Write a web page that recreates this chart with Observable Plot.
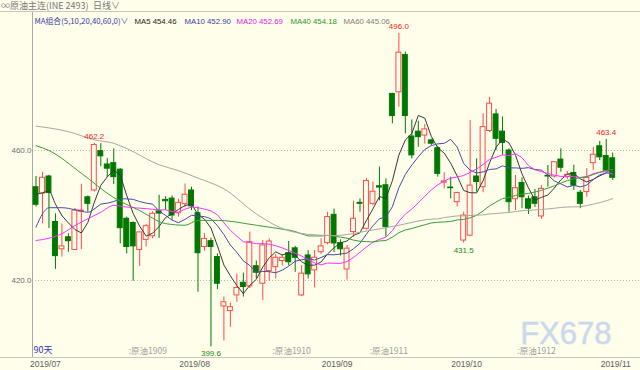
<!DOCTYPE html>
<html><head><meta charset="utf-8">
<script src="https://cdn.jsdelivr.net/npm/d3@7"></script>
<script src="https://cdn.jsdelivr.net/npm/@observablehq/plot@0.6"></script>
<style>
html,body{margin:0;padding:0;background:#fefeea;}
#wrap{position:relative;width:640px;height:370px;overflow:hidden;background:#fefeea;}
#hdr{position:absolute;left:0;top:0;width:640px;height:11px;border-bottom:1px solid #c8c8c0;font:9px "Noto Sans CJK SC",sans-serif;color:#777;line-height:11px;}
#hdr .ic{position:absolute;left:1px;top:0;font-size:9px;color:#888;}
#hdr .t1{position:absolute;left:10px;top:0;}
#hdr .t2{position:absolute;left:93px;top:0;}
#botline{position:absolute;left:0;top:357px;width:640px;height:0;border-top:1px solid #c8c8c0;}
#chart{position:absolute;left:0;top:0;}
</style></head><body><div id="wrap"><div id="chart"></div><div id="hdr"><span class="ic">∞</span><span class="t1">原油主连(INE 2493)</span><span class="t2">日线∨</span></div><div id="botline"></div></div>
<script>
// ---- daily candles, 2019-06-28 .. 2019-11-08 (90 trading days) ----
const opens  = [448.7,446.7,452.0,438.0,429.6,433.3,429.4,441.2,445.6,447.7,
                459.8,455.7,456.1,454.1,439.0,437.7,429.4,432.5,433.6,441.3,
                444.8,445.2,440.7,443.5,447.7,440.7,430.3,432.1,427.2,412.0,
                410.6,415.4,419.3,418.2,424.4,419.0,422.9,424.1,426.0,428.4,
                429.9,415.4,427.7,423.1,428.7,431.5,440.2,431.5,423.4,434.9,
                443.9,435.9,443.6,449.0,449.3,477.4,477.9,489.4,464.3,465.8,
                464.6,463.1,460.7,450.1,448.6,444.1,432.3,433.8,452.0,448.7,
                466.0,471.1,465.8,460.0,445.0,450.0,445.0,445.6,439.7,452.2,
                452.0,457.2,451.8,453.1,447.0,447.2,456.1,461.3,458.3,457.6];
const highs  = [452.0,453.3,452.4,440.5,437.4,434.4,442.2,449.6,446.0,462.2,
                462.1,457.5,460.5,454.4,439.5,438.0,435.0,437.2,441.2,446.2,
                445.8,446.0,445.0,449.7,448.7,442.6,434.4,433.0,428.2,414.9,
                413.0,422.0,422.3,434.9,426.0,432.3,432.8,428.0,428.0,432.0,
                430.5,424.6,429.2,429.2,432.8,441.0,442.0,432.5,430.8,444.4,
                445.1,451.3,450.3,454.9,451.3,477.6,496.0,490.3,469.4,469.0,
                468.0,463.5,461.3,453.2,451.8,447.2,441.0,469.2,457.4,471.3,
                476.4,472.6,470.3,460.5,452.3,451.6,446.0,448.0,449.2,455.4,
                456.6,460.5,453.5,455.5,447.7,454.4,461.0,462.8,463.4,459.2];
const lows   = [442.6,437.4,436.0,423.4,427.2,428.7,429.2,429.5,441.0,447.2,
                455.0,451.7,449.5,431.3,428.2,419.8,424.3,430.3,432.8,433.0,
                441.5,438.5,439.5,442.5,441.5,416.4,429.0,399.6,417.2,401.4,
                405.6,413.3,414.9,417.5,420.5,413.8,419.8,420.5,424.5,424.5,
                422.5,415.0,420.5,417.7,428.0,431.0,428.6,427.5,420.1,433.3,
                441.0,435.5,443.0,444.5,433.3,468.2,473.3,465.1,457.4,461.0,
                462.0,461.5,451.8,448.2,445.1,442.6,431.5,433.5,447.2,447.0,
                465.5,460.0,458.5,441.0,441.5,442.1,440.3,442.5,438.8,448.7,
                451.5,453.3,451.0,447.7,442.1,445.6,453.8,456.9,453.5,450.8];
const closes = [443.3,451.6,446.9,427.5,430.5,432.1,441.5,441.5,443.6,461.7,
                458.2,454.4,451.8,436.1,430.3,430.5,434.8,436.7,440.5,440.6,
                444.4,440.0,443.9,446.4,442.8,428.4,432.8,430.3,419.0,413.3,
                411.8,417.7,418.0,431.8,422.4,430.8,432.0,427.0,427.0,425.6,
                427.0,422.1,421.9,427.0,430.5,439.5,431.4,429.6,429.8,439.0,
                443.6,450.6,447.3,448.6,436.4,470.6,490.1,470.6,458.5,464.1,
                466.5,462.1,452.8,450.5,448.4,446.9,440.0,449.2,450.3,467.2,
                474.4,463.6,462.3,444.1,448.4,445.6,442.1,443.6,448.2,452.0,
                456.4,454.7,452.5,449.2,443.6,451.6,458.7,457.9,453.8,451.6];

// moving-average values before enough in-window days exist [day index, value]
const ma5Early  = [[0,446.5],[1,447.0],[2,447.5],[3,443.5],[4,440.0]];
const ma10Early = [[0,436.4],[1,440.5],[2,442.4],[4,442.4],[6,441.8],[8,441.0],[9,442.0]];
const ma20Early = [[0,432.3],[2,433.0],[4,434.4],[6,436.9],[8,439.0],[10,441.0],[12,443.1],[14,442.6],[17,442.1],[19,441.7]];
const ma40Early = [[0,461.5],[2,460.0],[7,453.0],[12,445.5],[16,441.5],[20,437.5],[23,437.0],[25,438.5],[28,438.5],[34,437.0],[39,435.5]];
const ma60Early = [[0,467.5],[5,465.8],[9,463.3],[12,462.2],[14,460.6],[19,455.6],[22,453.8],[25,451.5],[29,448.2],[34,440.5],[38,436.0],[42,434.2],[46,433.8],[51,435.2],[56,437.0],[59,438.3]];

// axis / annotation texts
const yTicks = [420, 460];
const monthTicks  = [1, 24, 46, 66, 89];
const monthLabels = ["2019/07","2019/08","2019/09","2019/10","2019/11"];
const contractAt  = [14.3, 36.5, 51.5, 74.3];
const contractLabels = [":原油1909",":原油1910",":原油1911",":原油1912"];
const extremeIdx  = [9, 56, 88, 27, 66];
const extremeVal  = [462.2, 496.0, 463.4, 399.6, 431.5];
const extremeKind = ["high","high","high","low","low"];
const maNames  = ["MA5","MA10","MA20","MA40","MA60"];
const maValues = ["454.46","452.90","452.69","454.18","445.06"];
const maPeriods = [5, 10, 20, 40, 60];

// ---------------------------------------------------------
const BG = "#fefeea", UP = "#ff4a4a", DOWN = "#007800";
const maColors = ["#383838", "#4a4aa8", "#ff30ff", "#3c9c3c", "#a8a8a0"];
const candles = opens.map((o, i) => ({i, o, h: highs[i], l: lows[i], c: closes[i], up: closes[i] >= o}));
const extremes = extremeIdx.map((i, k) => ({i, v: extremeVal[k], kind: extremeKind[k]}));
const monthMap = new Map(monthTicks.map((t, k) => [t, monthLabels[k]]));
const contracts = contractAt.map((x, k) => ({x, t: contractLabels[k]}));
const earlies = [ma5Early, ma10Early, ma20Early, ma40Early, ma60Early];

const xDom = [-0.54, 93.29];
const yDom = [396, 502.46];
const numFont = "'Liberation Sans', Arial, sans-serif";
const cjkFont = "'Noto Sans CJK SC', sans-serif";

const legendX = [2, 102, 152, 204, 258, 311];
const legendTexts = ["MA组合(5,10,20,40,60,0)∨"].concat(maNames.map((n, k) => n + " " + maValues[k]));
const legendColors = ["#3a3aa8"].concat(["#222", "#3a3aa0", "#e020e0", "#2f962f", "#808080"]);

const marks = [
  Plot.gridY(yTicks, {stroke: "#b8b8b0", strokeOpacity: 1, strokeDasharray: "1,2"}),
  Plot.ruleX([xDom[0]], {stroke: "#a8a8a8"}),
  Plot.axisY(yTicks, {tickSize: 0, tickPadding: 1, tickFormat: d => d.toFixed(1), label: null, fill: "#707070", fontSize: 8, fontFamily: numFont}),
  Plot.axisX(monthTicks, {tickSize: 0, tickPadding: 2, dx: 3, tickFormat: d => monthMap.get(d), label: null, fill: "#606060", fontSize: 8.5, fontFamily: numFont}),
  // watermark
  Plot.text(["FX678"], {frameAnchor: "bottom-right", text: d => d, textAnchor: "end", lineAnchor: "bottom", dx: -29, dy: -15, fontSize: 31, fontFamily: numFont, fill: "#c9d8ec", stroke: "#e6ecf2", strokeWidth: 1, paintOrder: "stroke"}),
  // candles
  Plot.ruleX(candles, {x: "i", y1: "l", y2: "h", stroke: d => d.up ? UP : DOWN, strokeWidth: 1}),
  Plot.rect(candles, {x1: d => d.i - 0.38, x2: d => d.i + 0.38, y1: "o", y2: "c", fill: d => d.up ? BG : DOWN, stroke: d => d.up ? UP : DOWN, strokeWidth: 1})
];
// moving averages
maPeriods.forEach((k, m) => {
  marks.push(Plot.line(earlies[m], {x: d => d[0], y: d => d[1], stroke: maColors[m], strokeWidth: 1, curve: "monotone-x"}));
  marks.push(Plot.lineY(candles, Plot.windowY({k, anchor: "end", strict: true}, {x: "i", y: "c", stroke: maColors[m], strokeWidth: 1})));
});
marks.push(
  Plot.text(extremes.filter(d => d.kind === "high"), {x: "i", y: "v", text: d => d.v.toFixed(1), dy: -7, fill: "#ff2020", fontSize: 8, fontFamily: numFont, lineAnchor: "middle"}),
  Plot.text(extremes.filter(d => d.kind === "low"), {x: "i", y: "v", text: d => d.v.toFixed(1), dy: 7, fill: "#1a8a1a", fontSize: 8, fontFamily: numFont, lineAnchor: "middle"}),
  Plot.text(contracts, {x: "x", frameAnchor: "bottom", text: "t", textAnchor: "start", dy: -5, fill: "#a0a0a0", fontSize: 8.5, fontFamily: cjkFont}),
  Plot.text(["90天"], {frameAnchor: "bottom-left", text: d => d, textAnchor: "start", dx: 1, dy: -6, fill: "#3030c0", fontSize: 9, fontFamily: cjkFont})
);
legendTexts.forEach((t, k) => {
  marks.push(Plot.text([t], {frameAnchor: "top-left", text: d => d, textAnchor: "start", dx: legendX[k], dy: 6, fill: legendColors[k], fontSize: 7.8, fontFamily: k === 0 ? cjkFont : numFont}));
});

const chart = Plot.plot({
  width: 640, height: 370,
  marginLeft: 32, marginRight: 0, marginTop: 12, marginBottom: 12,
  x: {type: "linear", domain: xDom, axis: null},
  y: {type: "linear", domain: yDom, axis: null},
  style: {background: BG, fontFamily: numFont, fontSize: "8px", overflow: "visible"},
  marks
});
document.getElementById("chart").appendChild(chart);
</script></body></html>
